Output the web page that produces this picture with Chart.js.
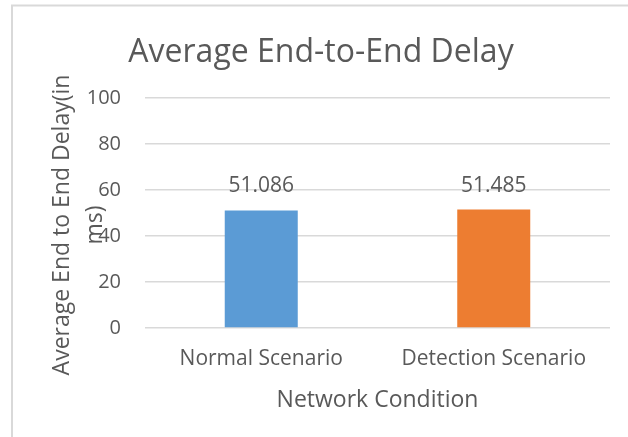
<!DOCTYPE html>
<html>
<head>
<meta charset="utf-8">
<script src="https://cdn.jsdelivr.net/npm/chart.js@4.4.1/dist/chart.umd.min.js"></script>
<style>
  html, body { margin: 0; padding: 0; background: #ffffff; }
  #wrap { position: relative; width: 628px; height: 437px; }
</style>
</head>
<body>
<div id="wrap"><canvas id="c" width="628" height="437"></canvas></div>
<script>
const categories = ['Normal Scenario', 'Detection Scenario'];
const delayValues = [51.086, 51.485];
const valueLabels = ['51.086', '51.485'];
const yTicks = [0, 20, 40, 60, 80, 100];
const barColors = ['#5B9BD5', '#ED7D31'];
const chartTitle = 'Average End-to-End Delay';
const yTitleLines = ['Average End to End Delay(in', 'ms)'];
const xTitle = 'Network Condition';

const FONT = "'Open Sans', 'DejaVu Sans', sans-serif";
const TEXT = '#595959';
const GRID = '#D9D9D9';

const decorPlugin = {
  id: 'decor',
  beforeDraw(chart) {
    const ctx = chart.ctx;
    ctx.save();
    ctx.fillStyle = '#ffffff';
    ctx.fillRect(0, 0, chart.width, chart.height);
    ctx.strokeStyle = GRID;
    ctx.lineWidth = 2;
    ctx.beginPath();
    ctx.moveTo(12, chart.height + 2);
    ctx.lineTo(12, 5.5);
    ctx.lineTo(chart.width + 2, 5.5);
    ctx.stroke();
    ctx.restore();
  },
  afterDraw(chart) {
    const ctx = chart.ctx;
    const area = chart.chartArea;
    ctx.save();
    ctx.fillStyle = TEXT;
    ctx.font = '32px ' + FONT;
    ctx.textAlign = 'center';
    ctx.textBaseline = 'alphabetic';
    ctx.fillText(chartTitle, 321, 62);
    ctx.font = '23px ' + FONT;
    ctx.textBaseline = 'middle';
    const cy = (area.top + area.bottom) / 2 + 12;
    const xs = [62, 95];
    yTitleLines.forEach((line, i) => {
      ctx.save();
      ctx.translate(xs[i], cy);
      ctx.rotate(-Math.PI / 2);
      ctx.fillText(line, 0, 0);
      ctx.restore();
    });
    ctx.restore();
  },
  afterDatasetsDraw(chart) {
    const ctx = chart.ctx;
    const meta = chart.getDatasetMeta(0);
    ctx.save();
    ctx.fillStyle = TEXT;
    ctx.font = '21px ' + FONT;
    ctx.textAlign = 'center';
    ctx.textBaseline = 'middle';
    meta.data.forEach((bar, i) => {
      ctx.fillText(valueLabels[i], bar.x, bar.y - 24);
    });
    ctx.restore();
  }
};

new Chart(document.getElementById('c'), {
  type: 'bar',
  data: {
    labels: categories,
    datasets: [{
      data: delayValues,
      backgroundColor: barColors,
      borderWidth: 0,
      categoryPercentage: 1,
      barPercentage: 0.314
    }]
  },
  options: {
    responsive: false,
    animation: false,
    devicePixelRatio: 1,
    layout: { padding: { left: 0, right: 18, top: 98, bottom: 0 } },
    plugins: {
      legend: { display: false },
      title: { display: false },
      tooltip: { enabled: false }
    },
    scales: {
      x: {
        grid: { display: false, drawTicks: false },
        border: { display: false },
        ticks: { color: TEXT, font: { family: FONT, size: 21 }, padding: 18, maxRotation: 0 },
        title: {
          display: true, text: xTitle, color: TEXT,
          font: { family: FONT, size: 23 },
          padding: { top: 0, bottom: 23 }
        },
        afterFit(scale) {
          scale.height = 109;
          scale.paddingLeft = 0; scale.paddingRight = 0;
        }
      },
      y: {
        min: 0, max: 100,
        afterBuildTicks(scale) {
          scale.ticks = yTicks.map(v => ({ value: v }));
        },
        grid: { color: GRID, lineWidth: 1.5, drawTicks: false },
        border: { display: false },
        ticks: { color: TEXT, font: { family: FONT, size: 20 }, padding: 24 },
        afterFit(scale) {
          scale.width = 145;
          scale.paddingTop = 0; scale.paddingBottom = 0;
        }
      }
    }
  },
  plugins: [decorPlugin]
});
</script>
</body>
</html>
